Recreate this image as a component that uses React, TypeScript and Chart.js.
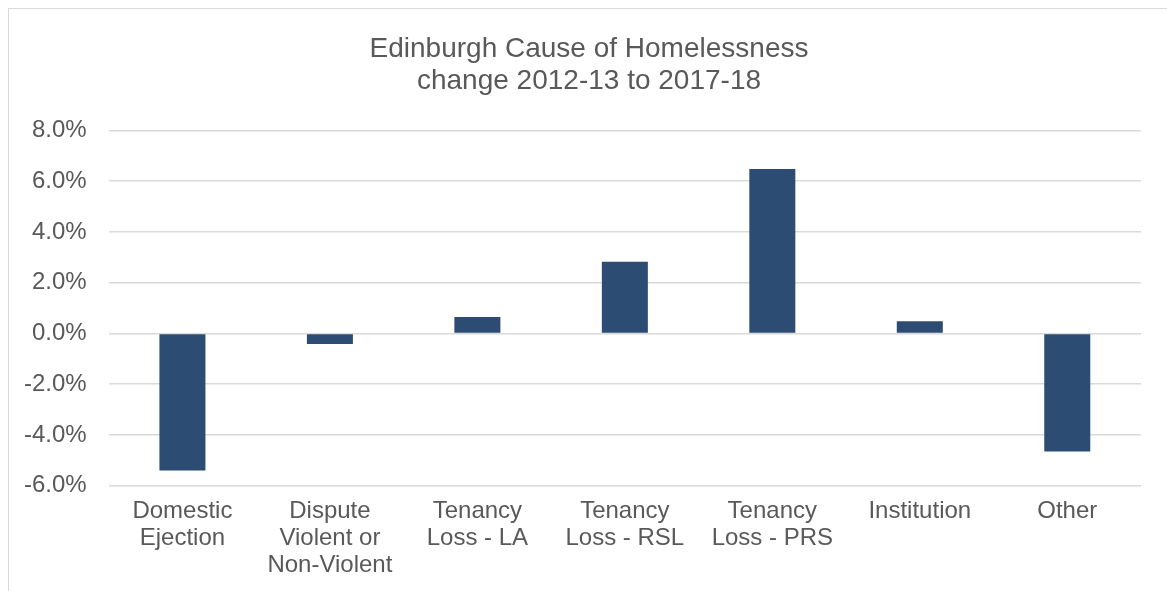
import React, { useEffect, useRef } from "react";
import { Chart, registerables } from "chart.js";

Chart.register(...registerables);

const titleLines = ["Edinburgh Cause of Homelessness", "change 2012-13 to 2017-18"];
const categories: string[][] = [
  ["Domestic", "Ejection"],
  ["Dispute", "Violent or", "Non-Violent"],
  ["Tenancy", "Loss - LA"],
  ["Tenancy", "Loss - RSL"],
  ["Tenancy", "Loss - PRS"],
  ["Institution"],
  ["Other"],
];
const changeValues = [-5.4, -0.42, 0.65, 2.82, 6.48, 0.48, -4.65];
const yMin = -6;
const yMax = 8;
const yStep = 2;

const FONT = '"Liberation Sans", Arial, sans-serif';
const TEXT = "#595959";
const GRID = "#d9d9d9";
const BAR = "#2C4C74";

const CANVAS_W = 1180;
const CANVAS_H = 591;

export default function App() {
  const canvasRef = useRef<HTMLCanvasElement | null>(null);

  useEffect(() => {
    if (!canvasRef.current) return;
    const chart = new Chart(canvasRef.current, {
      type: "bar",
      data: {
        labels: categories,
        datasets: [
          {
            data: changeValues,
            backgroundColor: BAR,
            borderWidth: 0,
            barPercentage: 0.312,
            categoryPercentage: 1,
            yAxisID: "y",
          },
        ],
      },
      options: {
        animation: false,
        responsive: false,
        maintainAspectRatio: false,
        layout: { padding: { top: 33, left: 2, right: 4, bottom: 0 } },
        plugins: {
          legend: { display: false },
          tooltip: { enabled: false },
          title: {
            display: true,
            text: titleLines,
            color: TEXT,
            font: { family: FONT, size: 28, weight: "normal", lineHeight: 1.15 },
            padding: { top: 0, bottom: 33 },
          },
        },
        scales: {
          x: {
            grid: { display: false, drawTicks: false },
            border: { display: false },
            ticks: {
              color: TEXT,
              font: { family: FONT, size: 24, lineHeight: 1.13 },
              padding: 12,
              maxRotation: 0,
              autoSkip: false,
            },
          },
          y: {
            min: yMin,
            max: yMax,
            grid: { color: GRID, lineWidth: 1.5, drawTicks: false },
            border: { display: false },
            ticks: {
              stepSize: yStep,
              color: TEXT,
              font: { family: FONT, size: 24 },
              padding: 22,
              callback: (v: any) => Number(v).toFixed(1) + "%",
            },
          },
          spacer: {
            type: "linear",
            position: "right",
            display: true,
            grid: { display: false, drawTicks: false },
            border: { display: false },
            ticks: { display: false },
            afterFit: (scale: any) => {
              scale.width = 35;
            },
          },
        },
      },
    });
    return () => chart.destroy();
  }, []);

  return (
    <div>
      <div
        style={{
          position: "fixed",
          left: 8,
          top: 8,
          width: 1300,
          height: 700,
          border: "1px solid #d9d9d9",
          boxSizing: "border-box",
        }}
      />
      <div style={{ position: "fixed", left: 0, top: 0, width: 1167, height: 591, overflow: "hidden" }}>
        <canvas ref={canvasRef} width={CANVAS_W} height={CANVAS_H} style={{ display: "block" }} />
      </div>
    </div>
  );
}
